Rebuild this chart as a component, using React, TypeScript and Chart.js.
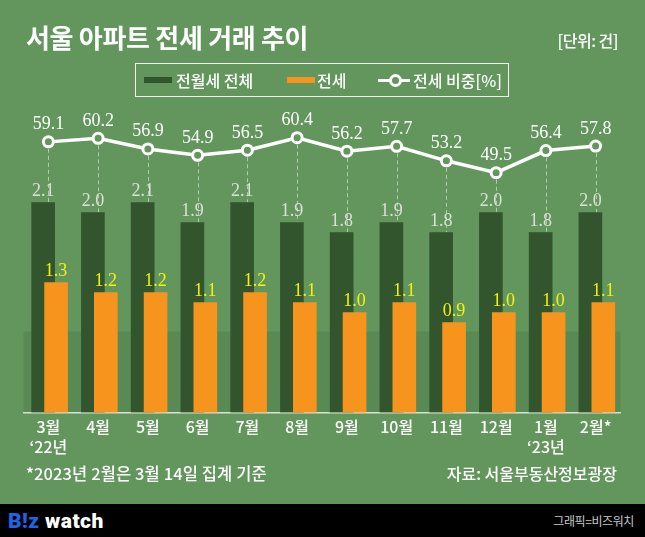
import React, { useEffect, useRef } from "react";
import { Chart, registerables } from "chart.js";

Chart.register(...registerables);

// ---- data ----
const months: (string | string[])[] = [
  ["3월", "‘22년"], "4월", "5월", "6월", "7월", "8월", "9월", "10월", "11월", "12월", ["1월", "‘23년"], "2월*",
];
const totalDeals = [2.1, 2.0, 2.1, 1.9, 2.1, 1.9, 1.8, 1.9, 1.8, 2.0, 1.8, 2.0]; // 전월세 전체 (천 건)
const jeonseDeals = [1.3, 1.2, 1.2, 1.1, 1.2, 1.1, 1.0, 1.1, 0.9, 1.0, 1.0, 1.1]; // 전세 (천 건)
const jeonseShare = [59.1, 60.2, 56.9, 54.9, 56.5, 60.4, 56.2, 57.7, 53.2, 49.5, 56.4, 57.8]; // 전세 비중 %

// ---- style ----
const BG = "#62965D";
const DARK = "#33552E";
const ORANGE = "#F7941D";
const KR = '"Noto Sans CJK KR", "Noto Sans", sans-serif';
const SERIF = '"Liberation Serif", "DejaVu Serif", serif';
const DARK_SHIFT = -0.105;
const ORANGE_SHIFT = 0.155;

const decorPlugin = {
  id: "decor",
  beforeDraw(chart: any) {
    const { ctx, chartArea, scales } = chart;
    const y0 = scales.y2.getPixelForValue(0);
    ctx.save();
    ctx.fillStyle = "rgba(0,0,0,0.085)";
    ctx.fillRect(chartArea.left, y0, chartArea.right - chartArea.left, chartArea.bottom - y0);
    ctx.restore();
  },
  beforeDatasetsDraw(chart: any) {
    const { ctx, scales } = chart;
    ctx.save();
    ctx.strokeStyle = "rgba(255,255,255,0.5)";
    ctx.lineWidth = 1;
    ctx.setLineDash([4, 3]);
    jeonseShare.forEach((v, i) => {
      const x = Math.round(scales.x.getPixelForValue(i)) + 0.5;
      ctx.beginPath();
      ctx.moveTo(x, scales.y2.getPixelForValue(v));
      ctx.lineTo(x, scales.y.getPixelForValue(totalDeals[i]));
      ctx.stroke();
    });
    ctx.restore();
  },
  afterDatasetsDraw(chart: any) {
    const { ctx } = chart;
    ctx.save();
    ctx.font = `18px ${SERIF}`;
    ctx.textAlign = "center";
    ctx.textBaseline = "alphabetic";
    const lineMeta = chart.getDatasetMeta(0);
    const orangeMeta = chart.getDatasetMeta(1);
    const darkMeta = chart.getDatasetMeta(2);
    ctx.fillStyle = "#FFFFFF";
    lineMeta.data.forEach((p: any, i: number) => {
      ctx.fillText(jeonseShare[i].toFixed(1), p.x, p.y - 12.5);
    });
    ctx.fillStyle = "#D9E0D5";
    darkMeta.data.forEach((b: any, i: number) => {
      ctx.fillText(totalDeals[i].toFixed(1), b.x, b.y - 6.5);
    });
    ctx.fillStyle = "#F4F20A";
    orangeMeta.data.forEach((b: any, i: number) => {
      ctx.fillText(jeonseDeals[i].toFixed(1), b.x, b.y - 6.5);
    });
    ctx.restore();
  },
};

const Txt = (props: any) => {
  const { x, right, y, size, color = "#FFFFFF", weight = 500, ls = 0, children, family = KR } = props;
  const style: any = {
    position: "absolute",
    top: y,
    fontSize: size,
    lineHeight: 1,
    color,
    fontWeight: weight,
    letterSpacing: ls,
    whiteSpace: "nowrap",
    fontFamily: family,
  };
  if (right !== undefined) style.right = right;
  else style.left = x;
  return <div style={style}>{children}</div>;
};

export default function App() {
  const ref = useRef<HTMLCanvasElement>(null);

  useEffect(() => {
    document.body.style.margin = "0";
    const chart = new Chart(ref.current as HTMLCanvasElement, {
      type: "bar",
      data: {
        datasets: [
          {
            type: "line",
            label: "전세 비중[%]",
            data: jeonseShare.map((v, i) => ({ x: i, y: v })),
            yAxisID: "y2",
            borderColor: "#FFFFFF",
            borderWidth: 3.5,
            pointRadius: 5,
            pointBorderWidth: 3,
            pointBackgroundColor: BG,
            pointBorderColor: "#FFFFFF",
            tension: 0,
            order: 0,
          } as any,
          {
            type: "bar",
            label: "전세",
            data: jeonseDeals.map((v, i) => ({ x: i + ORANGE_SHIFT, y: v })),
            yAxisID: "y",
            backgroundColor: ORANGE,
            barThickness: 23,
            grouped: false,
            borderWidth: 0,
            order: 1,
          } as any,
          {
            type: "bar",
            label: "전월세 전체",
            data: totalDeals.map((v, i) => ({ x: i + DARK_SHIFT, y: v })),
            yAxisID: "y",
            backgroundColor: DARK,
            barThickness: 23,
            grouped: false,
            borderWidth: 0,
            order: 2,
          } as any,
        ],
      },
      options: {
        animation: false,
        responsive: false,
        devicePixelRatio: 1,
        layout: { padding: { left: 23.5, right: 24.5, top: 112.5, bottom: 0 } },
        plugins: { legend: { display: false }, tooltip: { enabled: false } },
        scales: {
          x: {
            type: "linear",
            offset: false,
            min: -0.5,
            max: 11.5,
            afterBuildTicks: (s: any) => {
              s.ticks = months.map((_, i) => ({ value: i }));
            },
            afterFit: (s: any) => {
              s.height = 124.5;
              s.paddingLeft = 0;
              s.paddingRight = 0;
            },
            ticks: {
              autoSkip: false,
              maxRotation: 0,
              padding: 4.5,
              color: "#FFFFFF",
              font: { family: KR, size: 16, weight: "500", lineHeight: 1.25 },
              callback: (_v: any, i: number) => months[i],
            },
            grid: { display: false, drawTicks: false, offset: false },
            border: { display: true, color: "rgba(235,240,232,0.85)", width: 1.5 },
          },
          y: { display: false, min: 0, max: 3.0 },
          y2: { display: false, min: -25.2, max: 68.25 },
        } as any,
      },
      plugins: [decorPlugin],
    });
    return () => chart.destroy();
  }, []);

  return (
    <div style={{ position: "relative", width: 645, height: 537, background: BG, overflow: "hidden", fontFamily: KR }}>
      <canvas ref={ref} width={645} height={537} style={{ position: "absolute", left: 0, top: 0, width: 645, height: 537 }} />
      <Txt x={26} y={23.5} size={26} weight={700} ls={-0.3}>서울 아파트 전세 거래 추이</Txt>
      <Txt right={27} y={32} size={16} weight={500} ls={-0.5}>[단위: 건]</Txt>

      {/* legend */}
      <div style={{ position: "absolute", left: 135, top: 63, width: 374, height: 34, boxSizing: "border-box", border: "1px solid #F2F2F2" }} />
      <div style={{ position: "absolute", left: 144, top: 77, width: 28, height: 6, background: DARK }} />
      <Txt x={176} y={71.5} size={16} weight={500} ls={0}>전월세 전체</Txt>
      <div style={{ position: "absolute", left: 287, top: 77, width: 28, height: 6, background: ORANGE }} />
      <Txt x={317} y={71.5} size={16} weight={500} ls={0}>전세</Txt>
      <div style={{ position: "absolute", left: 378, top: 78.5, width: 32, height: 3, background: "#FFFFFF" }} />
      <div style={{ position: "absolute", left: 388.5, top: 73.5, width: 13, height: 13, boxSizing: "border-box", borderRadius: "50%", border: "3px solid #FFFFFF", background: BG }} />
      <Txt x={413} y={71.5} size={16} weight={500} ls={0}>전세 비중[%]</Txt>

      {/* notes */}
      <Txt x={26} y={464.5} size={16.5} weight={500} ls={0.1}>*2023년 2월은 3월 14일 집계 기준</Txt>
      <Txt right={28} y={464.5} size={16} weight={500} ls={0}>자료: 서울부동산정보광장</Txt>

      {/* footer */}
      <div style={{ position: "absolute", left: 0, top: 504, width: 645, height: 33, background: "#000000" }} />
      <Txt x={8} y={511} size={21} weight={900} ls={0.5} color="#1F63E6" family='Roboto, "DejaVu Sans", sans-serif'>B!z</Txt>
      <Txt x={45} y={511} size={21} weight={900} ls={0.5} family='Roboto, "DejaVu Sans", sans-serif'>watch</Txt>
      <Txt right={11} y={515} size={12} weight={400} color="#C8C8C8" ls={-0.4}>그래픽=비즈워치</Txt>
    </div>
  );
}
